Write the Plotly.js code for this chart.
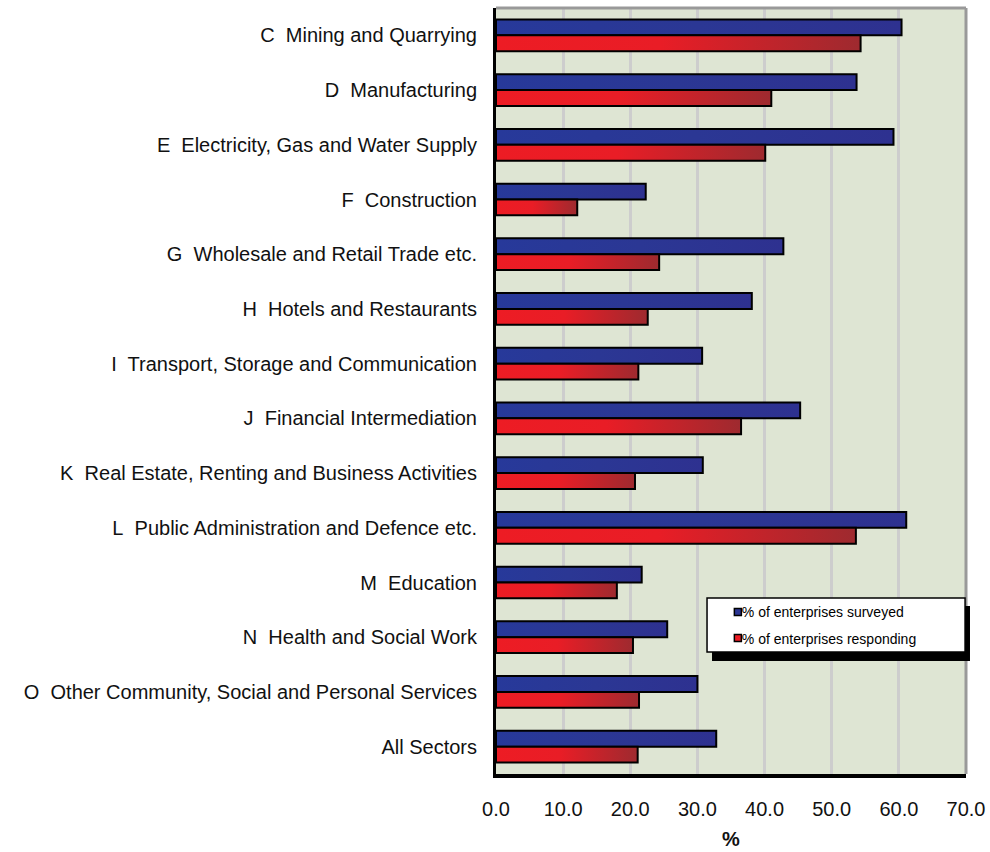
<!DOCTYPE html>
<html>
<head>
<meta charset="utf-8">
<script src="https://cdn.plot.ly/plotly-3.0.1.min.js"></script>
<style>
html,body{margin:0;padding:0;background:#fff;}
#chart{width:990px;height:852px;}
</style>
</head>
<body>
<div id="chart"></div>
<script>
const categories = [
  "C\u00a0 Mining and Quarrying",
  "D\u00a0 Manufacturing",
  "E\u00a0 Electricity, Gas and Water Supply",
  "F\u00a0 Construction",
  "G\u00a0 Wholesale and Retail Trade etc.",
  "H\u00a0 Hotels and Restaurants",
  "I\u00a0 Transport, Storage and Communication",
  "J\u00a0 Financial Intermediation",
  "K\u00a0 Real Estate, Renting and Business Activities",
  "L\u00a0 Public Administration and Defence etc.",
  "M\u00a0 Education",
  "N\u00a0 Health and Social Work",
  "O\u00a0 Other Community, Social and Personal Services",
  "All Sectors"
];
const surveyed   = [60.4, 53.7, 59.2, 22.3, 42.8, 38.1, 30.7, 45.3, 30.8, 61.1, 21.7, 25.5, 30.0, 32.8];
const responding = [54.3, 41.0, 40.1, 12.1, 24.3, 22.6, 21.2, 36.5, 20.7, 53.6, 18.0, 20.4, 21.3, 21.1];
const seriesNames = ["% of enterprises surveyed", "% of enterprises responding"];
const xTicks = [0, 10, 20, 30, 40, 50, 60, 70];

const FONT = "Arial, 'Liberation Sans', sans-serif";

const data = [
  {type:'bar', orientation:'h', y:categories, x:surveyed, name:seriesNames[0], legendgroup:'a',
   marker:{color:'#2B3593', line:{color:'#000', width:2}}},
  {type:'bar', orientation:'h', y:categories, x:responding, name:seriesNames[1], legendgroup:'b',
   marker:{color:'#ED1C24', line:{color:'#000', width:2}}}
];

const layout = {
  width:990, height:852,
  margin:{l:496, r:24, t:8, b:78, pad:0},
  paper_bgcolor:'#ffffff',
  plot_bgcolor:'#DEE5D3',
  font:{family:FONT, color:'#000', size:20},
  barmode:'group', bargap:0.42, bargroupgap:0,
  showlegend:true,
  legend:{x:0.438, y:0.232, xanchor:'left', yanchor:'top', bgcolor:'rgba(0,0,0,0)', borderwidth:0,
          font:{family:FONT, size:14, color:'#000'}, traceorder:'grouped', tracegroupgap:5},
  xaxis:{range:[0,70], tickvals:xTicks, tickformat:'.1f', showgrid:true, gridcolor:'#CDCDCD', gridwidth:3,
         zeroline:false, showline:true, linecolor:'#000', linewidth:4, ticks:'', ticklabelstandoff:14,
         tickfont:{family:FONT, size:20, color:'#111'},
         title:{text:'<b>%</b>', font:{family:FONT, size:20, color:'#111'}, standoff:14}},
  yaxis:{type:'category', autorange:'reversed', showgrid:false, zeroline:false, showline:true,
         linecolor:'#000', linewidth:3, ticks:'', ticklabelstandoff:12,
         tickfont:{family:FONT, size:20, color:'#111'}},
  shapes:[
    {type:'line', xref:'paper', yref:'paper', x0:0, x1:1, y0:1, y1:1, line:{color:'#999', width:3}, layer:'above'},
    {type:'line', xref:'paper', yref:'paper', x0:1, x1:1, y0:0, y1:1, line:{color:'#999', width:3}, layer:'above'},
    {type:'rect', xref:'paper', yref:'paper', x0:0.4596, x1:1.0085, y0:0.1475, y1:0.2193,
     fillcolor:'#000', line:{color:'#000', width:0}, layer:'above'},
    {type:'rect', xref:'paper', yref:'paper', x0:0.449, x1:0.998, y0:0.1593, y1:0.2298,
     fillcolor:'#fff', line:{color:'#000', width:1.5}, layer:'above'}
  ]
};

Plotly.newPlot('chart', data, layout, {displayModeBar:false, staticPlot:true}).then(function(gd){
  const ns = 'http://www.w3.org/2000/svg';
  const svg = gd.querySelector('svg.main-svg');
  let defs = svg.querySelector('defs');
  if(!defs){ defs = document.createElementNS(ns,'defs'); svg.insertBefore(defs, svg.firstChild); }
  function grad(id, stops){
    const g = document.createElementNS(ns,'linearGradient');
    g.setAttribute('id', id);
    g.setAttribute('x1','0'); g.setAttribute('y1','0'); g.setAttribute('x2','1'); g.setAttribute('y2','0');
    stops.forEach(function(s){
      const st = document.createElementNS(ns,'stop');
      st.setAttribute('offset', s[0]); st.setAttribute('stop-color', s[1]);
      g.appendChild(st);
    });
    defs.appendChild(g);
  }
  grad('gBlue', [[0,'#27399A'],[0.5,'#2B3794'],[1,'#2E3190']]);
  grad('gRed', [[0,'#ED1C24'],[0.45,'#E91D26'],[1,'#9E2A2F']]);
  const traces = gd.querySelectorAll('.barlayer .trace');
  if(traces[0]) traces[0].querySelectorAll('.point path').forEach(function(p){ p.style.fill='url(#gBlue)'; });
  if(traces[1]) traces[1].querySelectorAll('.point path').forEach(function(p){ p.style.fill='url(#gRed)'; });
  // smaller legend swatches placed next to the text, as in the reference
  gd.querySelectorAll('.legend .legendpoints path').forEach(function(p){
    p.setAttribute('d','M3.5,3.5H-3.5V-3.5H3.5Z');
    p.setAttribute('transform','translate(36,0)');
    p.style.strokeWidth = '1.5px';
  });
});
</script>
</body>
</html>
